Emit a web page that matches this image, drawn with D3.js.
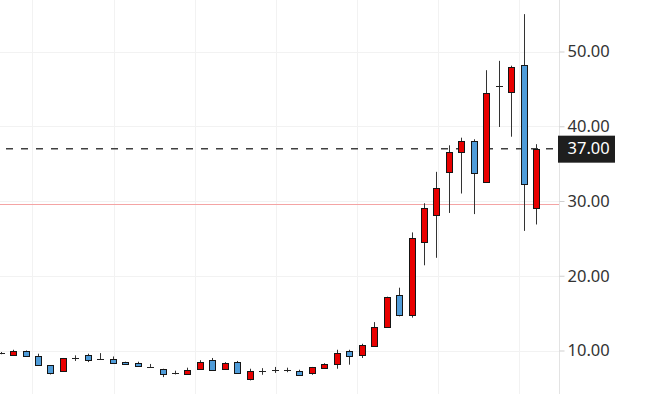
<!DOCTYPE html>
<html>
<head>
<meta charset="utf-8">
<script src="https://cdn.jsdelivr.net/npm/d3@7"></script>
<style>
  html, body { margin: 0; padding: 0; background: #fff; }
  svg { display: block; }
</style>
</head>
<body>
<div id="chart"></div>
<script>
(function(d3) {
  'use strict';

  // OHLC per candle, oldest first
  var opens  = [9.6, 9.44, 10.0, 9.2, 8.0, 7.2, 9.0, 9.34, 8.8, 8.8, 8.45, 8.3, 7.8, 7.56, 7.0, 6.9, 7.56, 8.67, 7.56, 8.44, 6.13, 7.2, 7.43, 7.43, 7.2, 7.0, 7.64, 8.24, 9.9, 9.44, 10.55, 13.2, 17.48, 14.8, 24.45, 28.07, 33.87, 36.5, 38.03, 32.5, 45.4, 44.56, 48.2, 29.1];
  var highs  = [9.8, 10.1, 10.0, 9.57, 8.0, 9.0, 9.35, 9.57, 9.65, 9.2, 8.5, 8.5, 8.2, 7.56, 7.3, 7.7, 8.7, 9.0, 8.44, 8.6, 7.56, 7.64, 7.8, 7.7, 7.43, 7.8, 8.3, 10.1, 10.1, 10.9, 13.8, 17.2, 18.4, 25.8, 29.7, 33.9, 37.45, 38.47, 38.26, 47.5, 48.75, 48.1, 55.0, 37.6];
  var lows   = [9.5, 9.3, 9.2, 8.0, 6.8, 7.2, 8.6, 8.45, 8.8, 8.3, 8.2, 7.8, 7.8, 6.44, 6.8, 6.9, 7.56, 7.33, 7.56, 6.97, 6.0, 6.75, 7.0, 7.1, 6.75, 6.75, 7.64, 7.56, 8.1, 9.0, 10.55, 13.2, 14.57, 14.4, 21.4, 22.4, 28.4, 31.0, 28.25, 32.5, 39.9, 38.6, 26.0, 26.86];
  var closes = [9.6, 10.0, 9.2, 8.0, 7.0, 8.98, 9.0, 8.77, 8.8, 8.36, 8.2, 7.86, 7.8, 6.8, 7.0, 7.43, 8.44, 7.33, 8.31, 6.97, 7.24, 7.2, 7.43, 7.43, 6.75, 7.8, 8.22, 9.65, 9.2, 10.7, 13.2, 17.12, 14.8, 25.1, 29.1, 31.8, 36.6, 38.03, 33.7, 44.42, 45.4, 47.86, 32.3, 37.0];

  var yTicks = [10, 20, 30, 40, 50];
  var timeTicks = [2.5, 9.1, 15.6, 22.1, 28.6, 35.1, 41.6]; // in candle index units
  var lastPrice = 37.0;
  var refLevel = 29.6;

  var width = 655, height = 394;
  var axisX = 559;

  var candles = opens.map(function(o, i) {
    return { i: i, o: o, h: highs[i], l: lows[i], c: closes[i] };
  });

  var x = d3.scaleLinear().domain([0, candles.length - 1]).range([0.65, 536]);
  var y = d3.scaleLinear().domain([10, 50]).range([350.5, 51.5]);

  var svg = d3.select('#chart').append('svg')
    .attr('width', width)
    .attr('height', height);

  svg.append('defs').append('clipPath').attr('id', 'plot')
    .append('rect').attr('x', 0).attr('y', 0).attr('width', axisX).attr('height', height);

  var crisp = function(v) { return Math.round(v) + 0.5; };

  // grid
  var grid = svg.append('g').attr('stroke', '#f2f2f2').attr('stroke-width', 1);
  grid.selectAll('.hg').data(yTicks).enter().append('line')
    .attr('x1', 0).attr('x2', axisX)
    .attr('y1', function(d) { return crisp(y(d)); })
    .attr('y2', function(d) { return crisp(y(d)); });
  grid.selectAll('.vg').data(timeTicks).enter().append('line')
    .attr('y1', 0).attr('y2', height)
    .attr('x1', function(d) { return crisp(x(d)); })
    .attr('x2', function(d) { return crisp(x(d)); });

  // reference level
  svg.append('line')
    .attr('x1', 0).attr('x2', axisX)
    .attr('y1', crisp(y(refLevel))).attr('y2', crisp(y(refLevel)))
    .attr('stroke', '#f4a4a4').attr('stroke-width', 1);

  // last price dashed line
  svg.append('line')
    .attr('x1', 0).attr('x2', axisX)
    .attr('y1', y(lastPrice)).attr('y2', y(lastPrice))
    .attr('stroke', '#404040').attr('stroke-width', 1.5)
    .attr('stroke-dasharray', '7,8').attr('stroke-dashoffset', 9);

  var plot = svg.append('g').attr('clip-path', 'url(#plot)');
  var g = plot.selectAll('g.candle').data(candles).enter().append('g');

  // wicks
  g.append('line')
    .attr('x1', function(d) { return crisp(x(d.i)); })
    .attr('x2', function(d) { return crisp(x(d.i)); })
    .attr('y1', function(d) { return y(d.h); })
    .attr('y2', function(d) { return y(d.l); })
    .attr('stroke', '#333').attr('stroke-width', 1);

  // bodies
  g.filter(function(d) { return d.o !== d.c; }).append('rect')
    .attr('x', function(d) { return Math.round(x(d.i)) - 3 + 0.5; })
    .attr('width', 6)
    .attr('y', function(d) { return Math.round(y(Math.max(d.o, d.c))) + 0.5; })
    .attr('height', function(d) {
      return Math.max(1, Math.round(y(Math.min(d.o, d.c))) - Math.round(y(Math.max(d.o, d.c))));
    })
    .attr('fill', function(d) { return d.c > d.o ? '#e80000' : '#4f9cd9'; })
    .attr('stroke', '#151515').attr('stroke-width', 1);

  // doji
  g.filter(function(d) { return d.o === d.c; }).append('line')
    .attr('x1', function(d) { return Math.round(x(d.i)) - 3; })
    .attr('x2', function(d) { return Math.round(x(d.i)) + 4; })
    .attr('y1', function(d) { return crisp(y(d.o)); })
    .attr('y2', function(d) { return crisp(y(d.o)); })
    .attr('stroke', '#222').attr('stroke-width', 1);

  // right axis
  svg.append('line')
    .attr('x1', axisX + 0.5).attr('x2', axisX + 0.5)
    .attr('y1', 0).attr('y2', height)
    .attr('stroke', '#e3e3e3').attr('stroke-width', 1);

  var axis = svg.append('g')
    .attr('transform', 'translate(' + (axisX + 0.5) + ',0)')
    .call(d3.axisRight(y).tickValues(yTicks).tickSize(5).tickPadding(3)
      .tickFormat(d3.format('.2f')));
  axis.select('.domain').remove();
  axis.selectAll('.tick line').attr('stroke', '#cfcfcf');
  axis.selectAll('.tick text')
    .attr('fill', '#333')
    .style('font-family', '"Noto Sans", sans-serif')
    .style('font-size', '16.5px');

  // last price tag
  var tag = svg.append('g').attr('transform', 'translate(0,' + y(lastPrice) + ')');
  tag.append('rect')
    .attr('x', axisX - 1).attr('y', -13).attr('width', 57).attr('height', 27)
    .attr('fill', '#1e1e1e');
  tag.append('text')
    .attr('x', axisX + 8.5).attr('y', 0).attr('dy', '0.32em')
    .attr('fill', '#fff')
    .style('font-family', '"Noto Sans", sans-serif')
    .style('font-size', '16.5px')
    .text(d3.format('.2f')(lastPrice));
}(d3));
</script>
</body>
</html>
